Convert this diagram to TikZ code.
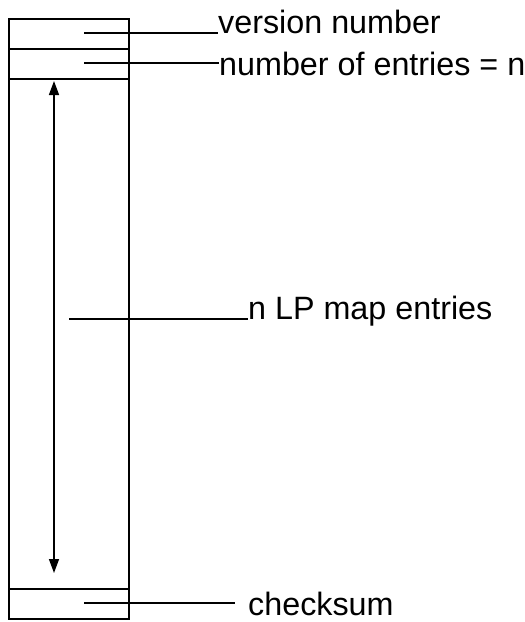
\documentclass[tikz,border=0pt]{standalone}
\usepackage{fontspec}
\setmainfont{Liberation Sans}
\usetikzlibrary{arrows.meta}
\begin{document}
\begin{tikzpicture}[x=1pt,y=-1pt,
  rule/.style={line width=1.5pt},
  lead/.style={line width=1.4pt},
  lbl/.style={inner sep=0pt,font=\fontsize{32.3}{36}\selectfont},
  span/.style={line width=1.4pt,{Triangle[length=14pt,width=10pt]}-{Triangle[length=14pt,width=10pt]}}]
  \useasboundingbox (0,0) rectangle (525,622);
  % table frame with header and trailer fields
  \draw[rule] (9,19) rectangle (129,619);
  \draw[rule] (9,49) -- (129,49);
  \draw[rule] (9,79) -- (129,79);
  \draw[rule] (9,589) -- (129,589);
  % labels
  \node[lbl,anchor=base west] (ver) at (218,33) {version number};
  \node[lbl,anchor=base west] (num) at (219,75) {number of entries = n};
  \node[lbl,anchor=base west] (lp) at (248,319) {n LP map entries};
  \node[lbl,anchor=base west] (ck) at (248,615) {checksum};
  % leader lines
  \coordinate (verA) at (84,33);
  \coordinate (numA) at (84,63);
  \coordinate (lpA) at (69,319);
  \coordinate (ckA) at (84,603);
  \coordinate (ckB) at (235,603);
  \draw[lead] (verA) -- (ver.base west);
  \draw[lead] (numA) -- (numA -| num.west);
  \draw[lead] (lpA) -- (lp.base west);
  \draw[lead] (ckA) -- (ckB);
  % extent of the entry block
  \coordinate (t) at (54,81);
  \coordinate (b) at (54,573);
  \draw[span] (t) -- (b);
\end{tikzpicture}
\end{document}
